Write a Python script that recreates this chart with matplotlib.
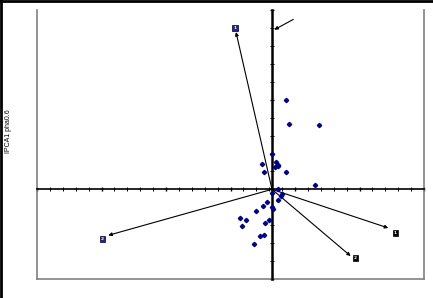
import numpy as np
import matplotlib

matplotlib.use("Agg")
import matplotlib.pyplot as plt
from matplotlib.lines import Line2D

# sample scores (PC1, PC2)
score_x = [0.00, -0.15, 0.06, 0.09, 0.05, 0.09, -0.12, 0.22, 0.67, 0.10,
           0.00, 0.155, 0.14, 0.09, -0.08, -0.14, 0.00, 0.015, -0.25, -0.50,
           -0.40, -0.04, -0.465, -0.11, -0.13, -0.19, -0.28, 0.22, 0.26, 0.73]
score_y = [0.39, 0.28, 0.31, 0.27, 0.25, 0.255, 0.19, 0.19, 0.05, 0.00,
           -0.045, -0.056, -0.078, -0.115, -0.14, -0.19, -0.20, -0.215, -0.24, -0.315,
           -0.345, -0.34, -0.405, -0.38, -0.505, -0.52, -0.615, 1.00, 0.73, 0.72]

# loading vectors (arrow tips) and their label boxes
load_x = [-0.558, -2.538, 1.803, 1.220]
load_y = [1.754, -0.513, -0.431, -0.744]
box_x = [-0.574, -2.631, 1.912, 1.291]
box_y = [1.798, -0.557, -0.487, -0.769]
box_text = ["1", "2", "1", "2"]
box_fill = ["#22229a", "#22229a", "black", "black"]

xmin, xmax = -3.643, 2.357
ymin, ymax = -1.0, 2.0

fig = plt.figure(figsize=(4.33, 2.98), dpi=100)
ax = fig.add_axes([37 / 433, 19 / 298, 387 / 433, 269 / 298])
ax.set_xlim(xmin, xmax)
ax.set_ylim(ymin, ymax)

# axes crossing at the origin
ax.spines["left"].set_position(("data", 0))
ax.spines["bottom"].set_position(("data", 0))
ax.spines["left"].set_linewidth(1.8)
ax.spines["bottom"].set_linewidth(1.2)
ax.spines["top"].set_visible(False)
ax.spines["right"].set_visible(False)

ax.set_xticks(xmin + np.arange(0, 7))
ax.set_xticks(xmin + np.arange(0, 30.5) * 0.2, minor=True)
ax.set_yticks([-1, 0, 1, 2])
ax.set_yticks(np.arange(-1, 2.01, 0.2), minor=True)
ax.set_xticklabels([])
ax.set_yticklabels([])
ax.tick_params(which="major", direction="inout", length=3.5, width=1.0)
ax.tick_params(which="minor", direction="inout", length=2.5, width=0.7)

# grey plot-area frame (left, bottom, right)
for xs, ys in [([0, 0], [0, 1]), ([0, 1], [0, 0]), ([1, 1], [0, 1])]:
    ax.add_line(Line2D(xs, ys, transform=ax.transAxes, color="#808080",
                       lw=1.2, clip_on=False))

ax.plot(score_x, score_y, linestyle="none", marker="D", markersize=2.2,
        color="#000090", zorder=5)

for tx, ty in zip(load_x, load_y):
    ax.annotate("", xy=(tx, ty), xytext=(0, 0),
                arrowprops=dict(arrowstyle="-|>", lw=0.8, color="black",
                                mutation_scale=5, shrinkA=0, shrinkB=0))

for bx, by, t, fc in zip(box_x, box_y, box_text, box_fill):
    ax.text(bx, by, t, fontsize=3.2, color="white", ha="center", va="center",
            fontweight="bold", zorder=6,
            bbox=dict(boxstyle="square,pad=0.25", fc=fc, ec="black", lw=0.5))

# pointer arrow near the vertical axis
ax.annotate("", xy=(0.036, 1.780), xytext=(0.330, 1.895),
            arrowprops=dict(arrowstyle="-|>", lw=0.8, color="black",
                            mutation_scale=5, shrinkA=0, shrinkB=0))

fig.text(9 / 433, 1 - 131 / 298, "IPCA1 pha0.6", rotation=90, fontsize=5,
         ha="center", va="center", family="Liberation Sans")

# black frame on top and left edge of the picture
fig.add_artist(Line2D([0, 1], [0.997, 0.997], transform=fig.transFigure,
                      color="black", lw=2))
fig.add_artist(Line2D([0.002, 0.002], [0, 1], transform=fig.transFigure,
                      color="black", lw=2))

fig.savefig("out.png", dpi=100)
